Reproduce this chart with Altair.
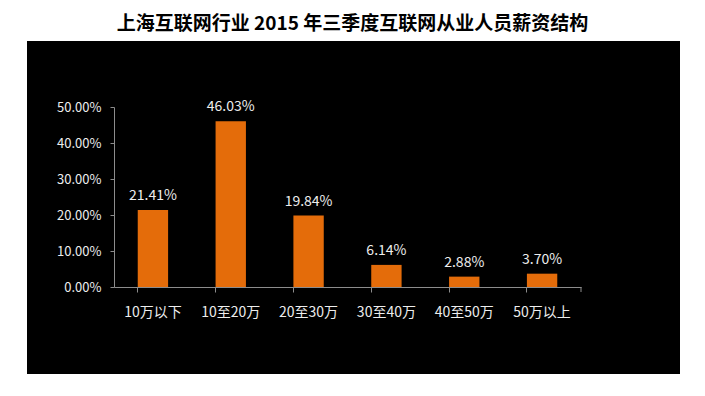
import altair as alt
import pandas as pd

categories = ["10万以下", "10至20万", "20至30万", "30至40万", "40至50万", "50万以上"]
shares = [0.2141, 0.4603, 0.1984, 0.0614, 0.0288, 0.0370]
labels = ["21.41%", "46.03%", "19.84%", "6.14%", "2.88%", "3.70%"]
y_ticks = [0.0, 0.1, 0.2, 0.3, 0.4, 0.5]
title_text = "上海互联网行业 2015 年三季度互联网从业人员薪资结构"

df = pd.DataFrame({"cat": categories, "share": shares, "label": labels})
one = pd.DataFrame({"a": [0]})

W, H = 467, 180
ORANGE = "#E46C0A"
AXIS = "#8C8C8C"
TEXT = "#EDEDED"
FONT = "Noto Sans CJK SC"

bg = alt.Chart(one).mark_rect(color="#000000").encode(
    x=alt.value(-87), x2=alt.value(566), y=alt.value(-66), y2=alt.value(267)
)

x_enc = alt.X(
    "cat:N",
    sort=categories,
    title=None,
    scale=alt.Scale(paddingInner=0.61, paddingOuter=0.305),
    axis=alt.Axis(
        bandPosition=0,
        labelAngle=0,
        labelColor=TEXT,
        labelFont=FONT,
        labelFontSize=14,
        labelPadding=13,
        tickSize=5,
        tickColor=AXIS,
        domainColor=AXIS,
        grid=False,
        zindex=2,
    ),
)

y_enc = alt.Y(
    "share:Q",
    title=None,
    scale=alt.Scale(domain=[0, 0.5], nice=False),
    axis=alt.Axis(
        values=y_ticks,
        format=".2%",
        labelColor=TEXT,
        labelFont=FONT,
        labelFontSize=13,
        labelPadding=9,
        labelOverlap=False,
        tickSize=4,
        tickColor=AXIS,
        domainColor=AXIS,
        grid=False,
        zindex=2,
    ),
)

base = alt.Chart(df).encode(x=x_enc, y=y_enc)

bars = base.mark_bar(color=ORANGE)

text = base.mark_text(
    baseline="bottom", dy=-7, fontSize=14, font=FONT, color=TEXT
).encode(text="label:N")

end_tick = alt.Chart(one).mark_rule(color=AXIS).encode(
    x=alt.value(W), y=alt.value(H), y2=alt.value(H + 5)
)

chart = (
    alt.layer(bg, bars, text, end_tick)
    .properties(
        width=W,
        height=H,
        autosize=alt.AutoSizeParams(type="none"),
        padding={"left": 106, "top": 99, "right": 112, "bottom": 93},
        background="#FFFFFF",
        title=alt.TitleParams(
            title_text,
            font=FONT,
            fontSize=19,
            fontWeight="bold",
            color="#000000",
            anchor="middle",
            frame="group",
            dx=5,
            offset=7,
        ),
    )
    .configure_view(stroke=None)
)

chart.save("out.html", embed_options={"renderer": "svg", "actions": False})
